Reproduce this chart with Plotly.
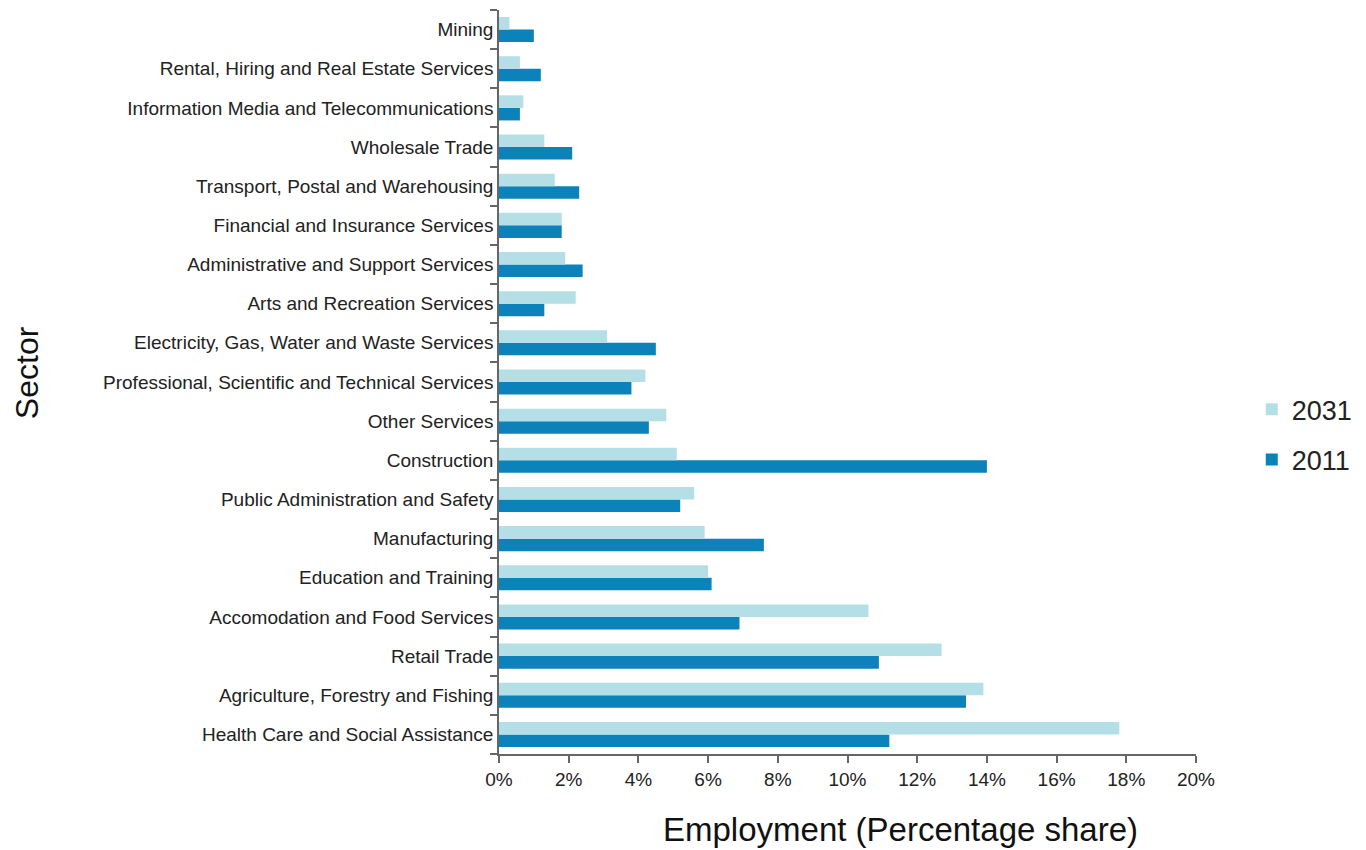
import plotly.graph_objects as go

# Categories listed bottom-to-top (as drawn on the y axis)
sectors = [
    "Health Care and Social Assistance",
    "Agriculture, Forestry and Fishing",
    "Retail Trade",
    "Accomodation and Food Services",
    "Education and Training",
    "Manufacturing",
    "Public Administration and Safety",
    "Construction",
    "Other Services",
    "Professional, Scientific and Technical Services",
    "Electricity, Gas, Water and Waste Services",
    "Arts and Recreation Services",
    "Administrative and Support Services",
    "Financial and Insurance Services",
    "Transport, Postal and Warehousing",
    "Wholesale Trade",
    "Information Media and Telecommunications",
    "Rental, Hiring and Real Estate Services",
    "Mining",
]

share_2011 = [11.2, 13.4, 10.9, 6.9, 6.1, 7.6, 5.2, 14.0, 4.3, 3.8, 4.5, 1.3, 2.4, 1.8, 2.3, 2.1, 0.6, 1.2, 1.0]
share_2031 = [17.8, 13.9, 12.7, 10.6, 6.0, 5.9, 5.6, 5.1, 4.8, 4.2, 3.1, 2.2, 1.9, 1.8, 1.6, 1.3, 0.7, 0.6, 0.3]

x_ticks = [0, 2, 4, 6, 8, 10, 12, 14, 16, 18, 20]

FONT = "Liberation Sans, Arial, sans-serif"

fig = go.Figure()
fig.add_trace(go.Bar(
    y=sectors, x=share_2011, orientation="h", name="2011",
    marker=dict(color="#0b82ba", line=dict(width=0)),
    legendgroup="g2011", legendrank=2,
))
fig.add_trace(go.Bar(
    y=sectors, x=share_2031, orientation="h", name="2031",
    marker=dict(color="#b5dfe6", line=dict(width=0)),
    legendgroup="g2031", legendrank=1,
))

fig.update_layout(
    width=1366, height=850,
    margin=dict(l=491, r=178, t=2, b=104),
    paper_bgcolor="white", plot_bgcolor="white",
    barmode="group", bargap=0.36, bargroupgap=0,
    font=dict(family=FONT, color="#222222", size=19),
    showlegend=True,
    legend=dict(
        x=1.08, y=0.429, xanchor="left", yanchor="middle",
        traceorder="grouped", tracegroupgap=12,
        font=dict(size=27, color="#222222"),
        itemwidth=30, bgcolor="rgba(0,0,0,0)",
    ),
    xaxis=dict(
        range=[0, 20], tickmode="array", tickvals=x_ticks,
        ticktext=[f"{v}%" for v in x_ticks],
        showgrid=False, zeroline=False, automargin=False,
        showline=True, linecolor="#666666", linewidth=1.5,
        ticks="outside", ticklen=7, tickcolor="#666666", tickwidth=1.5,
        tickfont=dict(size=19, color="#222222"),
    ),
    yaxis=dict(
        type="category", categoryorder="array", categoryarray=sectors,
        showgrid=False, zeroline=False, automargin=False,
        showline=True, linecolor="#666666", linewidth=1.5,
        ticks="outside", ticklen=7, tickcolor="#666666", tickwidth=1.5,
        tickson="boundaries",
        tickfont=dict(size=19, color="#222222"),
    ),
    annotations=[
        dict(text="Employment (Percentage share)", x=0.576, y=-0.074,
             xref="paper", yref="paper", xanchor="center", yanchor="top",
             showarrow=False, font=dict(size=33, color="#111111")),
        dict(text="Sector", x=-0.676, y=0.513, xref="paper", yref="paper",
             xanchor="center", yanchor="middle", textangle=-90,
             showarrow=False, font=dict(size=32, color="#111111")),
    ],
)

fig.write_html("out.html")
